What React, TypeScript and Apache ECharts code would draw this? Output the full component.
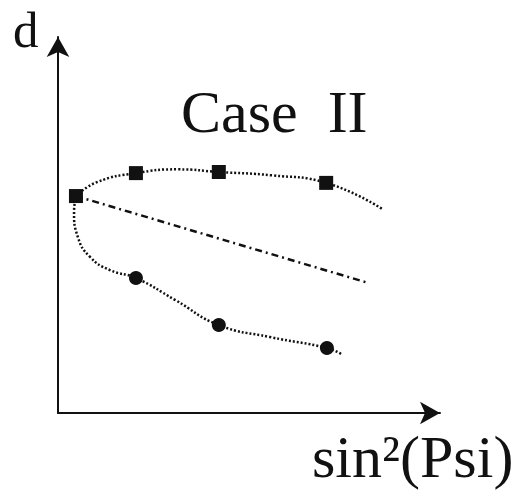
import React, { useEffect, useRef } from "react";
import * as echarts from "echarts";

// sin²(Psi) positions of the measurements (shared by both branches)
const psiPoints = [0.047, 0.204, 0.421, 0.702];
// d values measured on the upper (square) branch
const upperMeasured = [0.577, 0.638, 0.641, 0.612];
// d values measured on the lower (circle) branch, first point shared with the upper one
const lowerPsi = [0.204, 0.421, 0.704];
const lowerMeasured = [0.359, 0.234, 0.173];

// hand-traced guide curve through the upper branch
const upperCurveX = [0.047, 0.102, 0.204, 0.314, 0.421, 0.56, 0.702, 0.848];
const upperCurveY = [0.577, 0.614, 0.638, 0.648, 0.641, 0.632, 0.612, 0.543];
// hand-traced guide curve through the lower branch
const lowerCurveX = [0.047, 0.042, 0.052, 0.084, 0.136, 0.204, 0.306, 0.421, 0.555, 0.704, 0.741];
const lowerCurveY = [0.577, 0.535, 0.468, 0.415, 0.38, 0.359, 0.301, 0.234, 0.202, 0.173, 0.157];
// mean (linear) trend
const trendX = [0.047, 0.812];
const trendY = [0.577, 0.346];

const zip = (xs: number[], ys: number[]) => xs.map((x, i) => [x, ys[i]]);

const SERIF = "'Liberation Serif', 'Times New Roman', serif";
const INK = "#111";

export default function App() {
  const ref = useRef<HTMLDivElement>(null);

  useEffect(() => {
    if (!ref.current) return;
    const chart = echarts.init(ref.current, undefined, { renderer: "svg" });
    const axisLine = {
      show: true,
      symbol: ["none", "arrow"],
      symbolSize: [17, 20],
      lineStyle: { color: INK, width: 2 },
    };
    chart.setOption({
      animation: false,
      backgroundColor: "#fff",
      grid: { left: 58, right: 81, top: 37, bottom: 84 },
      xAxis: {
        type: "value",
        min: 0,
        max: 1,
        axisLine,
        axisTick: { show: false },
        axisLabel: { show: false },
        splitLine: { show: false },
      },
      yAxis: {
        type: "value",
        min: 0,
        max: 1,
        axisLine,
        axisTick: { show: false },
        axisLabel: { show: false },
        splitLine: { show: false },
      },
      graphic: [
        {
          type: "text",
          x: 13,
          y: 29.5,
          style: {
            text: "d",
            font: `51px ${SERIF}`,
            lineHeight: 40,
            fill: INK,
            align: "left",
            verticalAlign: "middle",
          },
        },
        {
          type: "text",
          x: 181,
          y: 112,
          style: { text: "Case  II", font: `60px ${SERIF}`, fill: INK, align: "left", verticalAlign: "middle" },
        },
        {
          type: "text",
          x: 312,
          y: 457,
          style: { text: "sin²(Psi)", font: `60px ${SERIF}`, fill: INK, align: "left", verticalAlign: "middle" },
        },
      ],
      series: [
        {
          type: "line",
          data: zip(upperCurveX, upperCurveY),
          smooth: 0.5,
          showSymbol: false,
          lineStyle: { color: INK, width: 2.5, type: [2, 2] },
          z: 2,
        },
        {
          type: "line",
          data: zip(lowerCurveX, lowerCurveY),
          smooth: 0.5,
          showSymbol: false,
          lineStyle: { color: INK, width: 2.5, type: [2, 2] },
          z: 2,
        },
        {
          type: "line",
          data: zip(trendX, trendY),
          showSymbol: false,
          lineStyle: { color: INK, width: 2.5, type: [7, 4, 2, 4] },
          z: 2,
        },
        {
          type: "scatter",
          data: zip(psiPoints, upperMeasured),
          symbol: "rect",
          symbolSize: 14,
          itemStyle: { color: INK, opacity: 1 },
          z: 3,
        },
        {
          type: "scatter",
          data: zip(lowerPsi, lowerMeasured),
          symbol: "circle",
          symbolSize: 14,
          itemStyle: { color: INK, opacity: 1 },
          z: 3,
        },
      ],
    });
    return () => chart.dispose();
  }, []);

  return (
    <div
      ref={ref}
      style={{ position: "fixed", left: 0, top: 0, width: 521, height: 497, background: "#fff" }}
    />
  );
}
